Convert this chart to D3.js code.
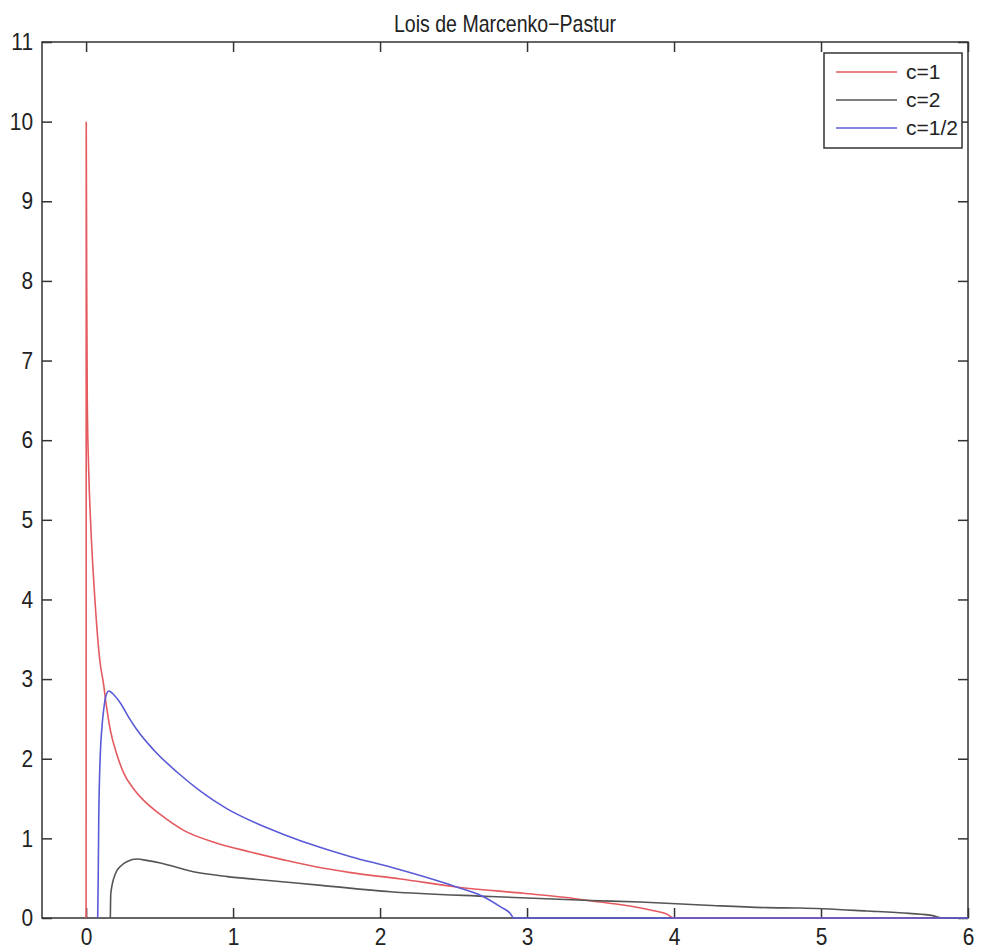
<!DOCTYPE html>
<html>
<head>
<meta charset="utf-8">
<script src="https://cdnjs.cloudflare.com/ajax/libs/d3/7.8.5/d3.min.js"></script>
<style>
  body { margin: 0; background: #fff; }
  text { font-family: "Liberation Sans", Arial, sans-serif; }
</style>
</head>
<body>
<svg width="987" height="952"></svg>
<script>
const SVG = d3.select('svg');

// --- data
const TITLE = 'Lois de Marcenko\u2212Pastur';
const X_TICKS = [0, 1, 2, 3, 4, 5, 6];
const Y_TICKS = [0, 1, 2, 3, 4, 5, 6, 7, 8, 9, 10, 11];
const SERIES_NAMES = ['c=1', 'c=2', 'c=1/2'];

// c=1 (red)
const C1 = [
  [0, 0], [0.001, 10], [0.004, 8], [0.008, 6.5], [0.018, 5.6], [0.03, 5], [0.06, 4],
  [0.093, 3.24], [0.12, 2.92], [0.131, 2.76], [0.165, 2.36], [0.21, 2.05], [0.256, 1.82],
  [0.32, 1.63], [0.39, 1.48], [0.505, 1.3], [0.664, 1.1], [0.89, 0.94], [1.117, 0.83],
  [1.344, 0.73], [1.57, 0.64], [1.8, 0.57], [2.14, 0.49], [2.52, 0.39],
  [2.975, 0.31], [3.25, 0.26], [3.5, 0.2], [3.7, 0.15], [3.84, 0.1], [3.95, 0.05],
  [4.0, 0], [6, 0]
];
// c=2 (black)
const C2 = [
  [0.165, 0], [0.168, 0.31], [0.2, 0.56], [0.24, 0.66], [0.28, 0.71], [0.347, 0.74],
  [0.42, 0.72], [0.505, 0.69], [0.73, 0.58], [0.96, 0.52], [1.185, 0.48], [1.6, 0.41],
  [2.07, 0.33], [2.75, 0.27], [3.43, 0.22], [3.77, 0.2], [4.22, 0.16],
  [4.63, 0.13], [4.86, 0.125], [5.31, 0.088], [5.6, 0.058], [5.76, 0.03],
  [5.83, 0], [6, 0]
];
// c=1/2 (blue)
const C3 = [
  [0.079, 0], [0.083, 0.6], [0.086, 1.23], [0.097, 2.07], [0.108, 2.4], [0.12, 2.62],
  [0.131, 2.76], [0.154, 2.85], [0.19, 2.8], [0.233, 2.7], [0.29, 2.52], [0.347, 2.36],
  [0.46, 2.11], [0.62, 1.83], [0.78, 1.59], [0.96, 1.37], [1.17, 1.18], [1.344, 1.05],
  [1.57, 0.9], [1.8, 0.77], [2.07, 0.64], [2.296, 0.52], [2.52, 0.39], [2.7, 0.27],
  [2.82, 0.14], [2.885, 0.06], [2.91, 0], [6, 0]
];

const COLORS = ['#e55a5f', '#555555', '#5a5ad8'];

// --- layout
const mLeft = 42, mTop = 42, mRight = 968, mBottom = 918;

const x = d3.scaleLinear().domain([-0.3, 6]).range([mLeft, mRight]);
const y = d3.scaleLinear().domain([0, 11]).range([mBottom, mTop]);

SVG.append('text')
  .attr('transform', `translate(${(mLeft + mRight) / 2},32) scale(0.85,1)`)
  .attr('text-anchor', 'middle')
  .attr('font-size', 23)
  .attr('fill', '#222')
  .text(TITLE);

// frame
SVG.append('rect')
  .attr('x', mLeft).attr('y', mTop)
  .attr('width', mRight - mLeft).attr('height', mBottom - mTop)
  .attr('fill', 'none').attr('stroke', '#333').attr('stroke-width', 1.5);

// axes, MATLAB style: ticks inward on all sides, narrow labels
function styleAxis(g, tf) {
  g.selectAll('.domain').remove();
  g.selectAll('line').attr('stroke', '#333').attr('stroke-width', 1.5);
  g.selectAll('text').attr('font-size', 24).attr('fill', '#222')
    .attr('x', 0).attr('y', 0)
    .attr('transform', tf);
}

SVG.append('g').attr('transform', `translate(0,${mBottom})`)
  .call(d3.axisBottom(x).tickValues(X_TICKS).tickSizeInner(-10).tickSizeOuter(0).tickFormat(d3.format('d')))
  .call(g => styleAxis(g, 'translate(0,10) scale(0.87,1)'));
SVG.append('g').attr('transform', `translate(0,${mTop})`)
  .call(d3.axisTop(x).tickValues(X_TICKS).tickSizeInner(-10).tickSizeOuter(0).tickFormat(''))
  .call(g => styleAxis(g, null));
SVG.append('g').attr('transform', `translate(${mLeft},0)`)
  .call(d3.axisLeft(y).tickValues(Y_TICKS).tickSizeInner(-10).tickSizeOuter(0).tickFormat(d3.format('d')))
  .call(g => styleAxis(g, 'translate(-9,0) scale(0.87,1)'));
SVG.append('g').attr('transform', `translate(${mRight},0)`)
  .call(d3.axisRight(y).tickValues(Y_TICKS).tickSizeInner(-10).tickSizeOuter(0).tickFormat(''))
  .call(g => styleAxis(g, null));

// curves, drawn over the box like MATLAB does
const line = d3.line().x(d => x(d[0])).y(d => y(d[1])).curve(d3.curveMonotoneX);
[C1, C2, C3].forEach((s, i) => {
  SVG.append('path')
    .attr('d', line(s))
    .attr('fill', 'none')
    .attr('stroke', COLORS[i])
    .attr('stroke-width', 1.6);
});

// legend
const lg = SVG.append('g');
lg.append('rect')
  .attr('x', 824).attr('y', 53).attr('width', 138).attr('height', 95)
  .attr('fill', '#fff').attr('stroke', '#333').attr('stroke-width', 1.5);
SERIES_NAMES.forEach((name, i) => {
  const yy = 72 + i * 28;
  lg.append('line')
    .attr('x1', 836).attr('x2', 897).attr('y1', yy).attr('y2', yy)
    .attr('stroke', COLORS[i]).attr('stroke-width', 1.6);
  lg.append('text')
    .attr('x', 906).attr('y', yy + 7)
    .attr('font-size', 21).attr('fill', '#222')
    .text(name);
});
</script>
</body>
</html>
